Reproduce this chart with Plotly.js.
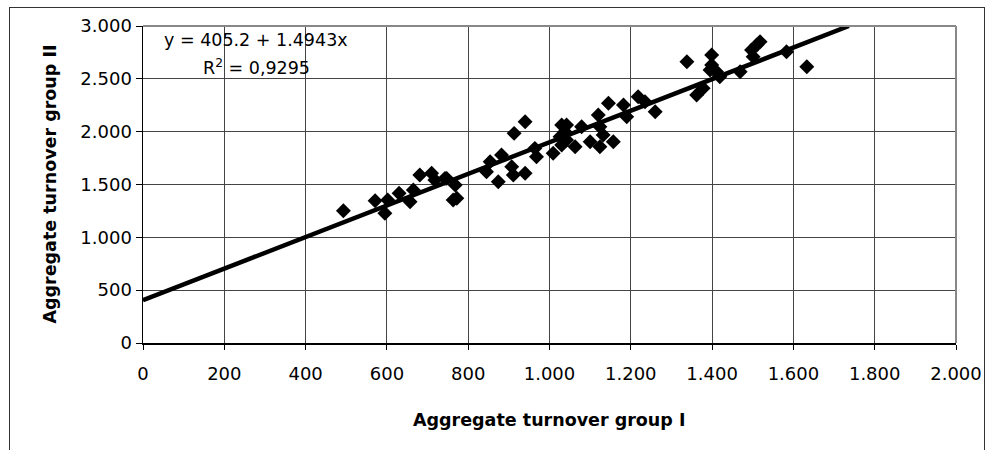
<!DOCTYPE html>
<html>
<head>
<meta charset="utf-8">
<script src="https://cdn.plot.ly/plotly-3.0.1.min.js"></script>
<style>
  html, body { margin: 0; padding: 0; background: #fff; overflow: hidden; }
  #frame { position: absolute; left: 9px; top: 7px; width: 976px; height: 470px; border: 1.5px solid #333; box-sizing: border-box; pointer-events: none; }
  #chart { position: absolute; left: 0; top: 0; width: 988px; height: 450px; }
</style>
</head>
<body>
<div id="chart"></div>
<div id="frame"></div>
<script>
// Aggregate turnover, group I (x) vs group II (y)
const turnoverGroupI = [
  493, 571, 595, 602, 630, 657, 665, 681, 710, 718, 747, 763,
  743, 768, 772, 845, 854, 874, 882, 907, 911, 913, 940, 940,
  964, 968, 1009, 1026, 1030, 1030, 1038, 1042, 1042, 1063, 1079, 1100,
  1120, 1124, 1124, 1132, 1145, 1157, 1182, 1190, 1218, 1235, 1260,
  1338, 1362, 1378, 1395, 1399, 1399, 1411, 1419, 1469, 1497, 1501,
  1510, 1518, 1583, 1633
];
const turnoverGroupII = [
  1252, 1347, 1227, 1353, 1417, 1337, 1448, 1590, 1606, 1543, 1558, 1353,
  1558, 1495, 1369, 1621, 1716, 1526, 1779, 1668, 1590, 1984, 2094, 1606,
  1842, 1763, 1795, 1952, 1874, 2063, 2000, 2063, 1921, 1858, 2047, 1905,
  2158, 2047, 1858, 1968, 2268, 1905, 2252, 2142, 2331, 2284, 2189,
  2662, 2347, 2410, 2584, 2725, 2631, 2567, 2520, 2567, 2773, 2709,
  2820, 2851, 2757, 2615
];

// Linear trend: y = a + b x
const trendIntercept = 405.2;
const trendSlope = 1.4943;
const trendR2 = "0,9295";
const trendX = [0, (3000 - trendIntercept) / trendSlope];
const trendY = trendX.map(x => trendIntercept + trendSlope * x);

const xTicks = [0, 200, 400, 600, 800, 1000, 1200, 1400, 1600, 1800, 2000];
const yTicks = [0, 500, 1000, 1500, 2000, 2500, 3000];

const xTitle = "Aggregate turnover group I";
const yTitle = "Aggregate turnover group II";

const font = "DejaVu Sans, Verdana, sans-serif";
const fs = 17.5;
const tickFs = 18;

const traces = [
  {
    x: turnoverGroupI, y: turnoverGroupII,
    type: "scatter", mode: "markers",
    marker: { symbol: "diamond", size: 11.5, color: "#000" },
    hoverinfo: "x+y", showlegend: false
  },
  {
    x: trendX, y: trendY,
    type: "scatter", mode: "lines",
    line: { color: "#000", width: 4.5 },
    hoverinfo: "skip", showlegend: false
  }
];

const layout = {
  width: 988, height: 450,
  margin: { l: 143, r: 32, t: 26, b: 107 },
  paper_bgcolor: "rgba(0,0,0,0)",
  plot_bgcolor: "#fff",
  separators: ",.",
  font: { family: font, size: fs, color: "#000" },
  showlegend: false,
  xaxis: {
    range: [0, 2000], tickvals: xTicks, tickformat: ",d",
    showgrid: true, gridcolor: "#444", gridwidth: 1,
    zeroline: false,
    showline: true, linecolor: "#000", linewidth: 1.5,
    ticks: "outside", ticklen: 5, tickcolor: "#000",
    ticklabelstandoff: 9,
    tickfont: { family: font, size: tickFs },
    automargin: false, fixedrange: true
  },
  yaxis: {
    range: [0, 3000], tickvals: yTicks, tickformat: ",d",
    ticksuffix: "\u00a0",
    showgrid: true, gridcolor: "#444", gridwidth: 1,
    zeroline: false,
    showline: true, linecolor: "#000", linewidth: 1.5,
    ticks: "outside", ticklen: 6, tickcolor: "#000",
    tickfont: { family: font, size: tickFs },
    automargin: false, fixedrange: true
  },
  shapes: [
    { type: "line", xref: "paper", yref: "paper", x0: 0, x1: 1, y0: 1, y1: 1, line: { color: "#888", width: 2 } },
    { type: "line", xref: "paper", yref: "paper", x0: 1, x1: 1, y0: 0, y1: 1, line: { color: "#888", width: 2 } }
  ],
  annotations: [
    { xref: "paper", yref: "paper", x: 0.139, y: 0.956, xanchor: "center", yanchor: "middle",
      text: "y = " + trendIntercept + " + " + trendSlope + "x", showarrow: false, font: { family: font, size: fs } },
    { xref: "paper", yref: "paper", x: 0.139, y: 0.872, xanchor: "center", yanchor: "middle",
      text: "R<sup>2</sup> = " + trendR2, showarrow: false, font: { family: font, size: fs } },
    // axis titles
    { xref: "paper", yref: "paper", x: 0.499, y: -0.243, xanchor: "center", yanchor: "middle",
      text: "<b>" + xTitle + "</b>", showarrow: false, font: { family: font, size: fs } },
    { xref: "paper", yref: "paper", x: -0.1156, y: 0.5, xanchor: "center", yanchor: "middle", textangle: -90,
      text: "<b>" + yTitle + "</b>", showarrow: false, font: { family: font, size: fs } }
  ]
};

Plotly.newPlot("chart", traces, layout, { displayModeBar: false, staticPlot: true });
</script>
</body>
</html>
